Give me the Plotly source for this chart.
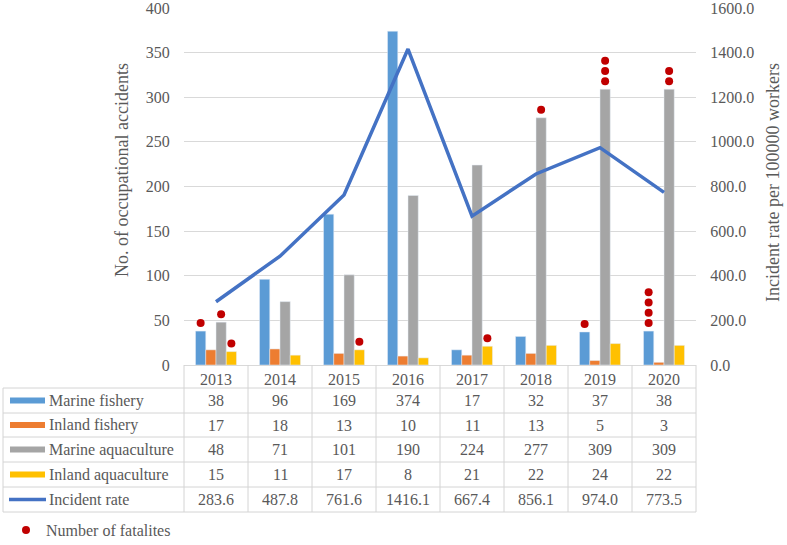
import plotly.graph_objects as go

# ---------------- data ----------------
years = ["2013", "2014", "2015", "2016", "2017", "2018", "2019", "2020"]
marine_fishery = [38, 96, 169, 374, 17, 32, 37, 38]
inland_fishery = [17, 18, 13, 10, 11, 13, 5, 3]
marine_aquaculture = [48, 71, 101, 190, 224, 277, 309, 309]
inland_aquaculture = [15, 11, 17, 8, 21, 22, 24, 22]
incident_rate = [283.6, 487.8, 761.6, 1416.1, 667.4, 856.1, 974.0, 773.5]

# number of fatalities (dots) above each bar
fatal_marine_fishery = [1, 0, 0, 0, 0, 0, 1, 4]
fatal_inland_fishery = [0, 0, 0, 0, 0, 0, 0, 0]
fatal_marine_aquaculture = [1, 0, 0, 0, 0, 1, 3, 2]
fatal_inland_aquaculture = [1, 0, 1, 0, 1, 0, 0, 0]

left_ticks = [0, 50, 100, 150, 200, 250, 300, 350, 400]
right_ticks = [0, 200, 400, 600, 800, 1000, 1200, 1400, 1600]

series_names = ["Marine fishery", "Inland fishery", "Marine aquaculture", "Inland aquaculture"]
series_values = [marine_fishery, inland_fishery, marine_aquaculture, inland_aquaculture]
series_fatal = [fatal_marine_fishery, fatal_inland_fishery, fatal_marine_aquaculture, fatal_inland_aquaculture]
colors = ["#5B9BD5", "#ED7D31", "#A5A5A5", "#FFC000"]
line_color = "#4472C4"
dot_color = "#C00000"

# ---------------- layout geometry ----------------
W, H = 787, 545
ML, MR, MT, MB = 184, 91, 8, 180
PW = W - ML - MR
PH = H - MT - MB
FONT = "Liberation Serif"
TXT = "#595959"
GRID = "#D9D9D9"
BARGAP = 0.36


def pxx(x):
    return (x - ML) / PW


def pxy(y):
    return (H - MB - y) / PH


xs = list(range(len(years)))

fig = go.Figure()
for name, vals, col in zip(series_names, series_values, colors):
    fig.add_trace(go.Bar(x=xs, y=vals, name=name, marker_color=col,
                         showlegend=False, yaxis="y"))

fig.add_trace(go.Scatter(x=xs, y=incident_rate, name="Incident rate", mode="lines",
                         line=dict(color=line_color, width=3.5), yaxis="y2",
                         showlegend=False))

# fatality dots
slot = (1 - BARGAP) / len(series_names)
dx, dy = [], []
for k, (vals, fat) in enumerate(zip(series_values, series_fatal)):
    off = (k - (len(series_names) - 1) / 2) * slot
    for i, (v, n) in enumerate(zip(vals, fat)):
        for j in range(n):
            dx.append(i + off)
            dy.append(v + 9 + 11.5 * j)
fig.add_trace(go.Scatter(x=dx, y=dy, mode="markers", name="Number of fatalites",
                         marker=dict(color=dot_color, size=8), yaxis="y",
                         showlegend=True))

# ---------------- table ----------------
shapes = []
annotations = []
row_edges = [388, 413, 437, 462, 487, 512]
col_edges = [184 + 64 * i for i in range(9)]
line_kw = dict(color="#D4D4D4", width=1)
for y in row_edges:
    shapes.append(dict(type="line", xref="paper", yref="paper",
                       x0=pxx(3), x1=pxx(696), y0=pxy(y), y1=pxy(y), line=line_kw))
shapes.append(dict(type="line", xref="paper", yref="paper",
                   x0=pxx(3), x1=pxx(3), y0=pxy(388), y1=pxy(512), line=line_kw))
for x in col_edges:
    shapes.append(dict(type="line", xref="paper", yref="paper",
                       x0=pxx(x), x1=pxx(x), y0=pxy(365), y1=pxy(512), line=line_kw))

row_names = series_names + ["Incident rate"]
row_values = [[str(v) for v in s] for s in series_values] + [[f"{v:.1f}" for v in incident_rate]]
for r in range(5):
    yc = (row_edges[r] + row_edges[r + 1]) / 2
    if r < 4:
        shapes.append(dict(type="rect", xref="paper", yref="paper",
                           x0=pxx(10), x1=pxx(45), y0=pxy(yc - 3), y1=pxy(yc + 3),
                           fillcolor=colors[r], line=dict(width=0)))
    else:
        shapes.append(dict(type="line", xref="paper", yref="paper",
                           x0=pxx(9), x1=pxx(46), y0=pxy(yc), y1=pxy(yc),
                           line=dict(color=line_color, width=3.5)))
    annotations.append(dict(xref="paper", yref="paper", x=pxx(47), y=pxy(yc),
                            xanchor="left", yanchor="middle", text=row_names[r],
                            showarrow=False, font=dict(family=FONT, size=16, color=TXT)))
    for i, t in enumerate(row_values[r]):
        annotations.append(dict(xref="x", yref="paper", x=i, y=pxy(yc),
                                xanchor="center", yanchor="middle", text=t,
                                showarrow=False, font=dict(family=FONT, size=16, color=TXT)))

# axis titles
annotations.append(dict(xref="paper", yref="paper", x=pxx(122), y=pxy(170),
                        text="No. of occupational accidents", textangle=-90,
                        showarrow=False, xanchor="center", yanchor="middle",
                        font=dict(family=FONT, size=18, color=TXT)))
annotations.append(dict(xref="paper", yref="paper", x=pxx(773), y=pxy(183),
                        text="Incident rate per 100000 workers", textangle=-90,
                        showarrow=False, xanchor="center", yanchor="middle",
                        font=dict(family=FONT, size=18, color=TXT)))

fig.update_layout(
    width=W, height=H,
    margin=dict(l=ML, r=MR, t=MT, b=MB, pad=0, autoexpand=False),
    paper_bgcolor="white", plot_bgcolor="white",
    barmode="group", bargap=BARGAP, bargroupgap=0,
    font=dict(family=FONT, size=16, color=TXT),
    xaxis=dict(range=[-0.5, len(years) - 0.5], tickvals=xs, ticktext=years,
               showgrid=False, zeroline=False, showline=True, linecolor=GRID,
               ticks="", automargin=False,
               tickfont=dict(family=FONT, size=16, color=TXT)),
    yaxis=dict(range=[0, 400], tickmode="array", tickvals=left_ticks,
               showgrid=True, gridcolor=GRID, gridwidth=1, automargin=False,
               zeroline=False, ticks="outside", ticklen=10, tickcolor="rgba(0,0,0,0)",
               ticklabeloverflow="allow",
               tickfont=dict(family=FONT, size=16, color=TXT)),
    yaxis2=dict(range=[0, 1600], tickmode="array", tickvals=right_ticks,
                overlaying="y", side="right", automargin=False,
                showgrid=False, zeroline=False, tickformat=".1f",
                ticks="outside", ticklen=10, tickcolor="rgba(0,0,0,0)",
                ticklabeloverflow="allow",
                tickfont=dict(family=FONT, size=16, color=TXT)),
    legend=dict(x=pxx(6), y=pxy(513), xanchor="left", yanchor="top",
                font=dict(family=FONT, size=16, color=TXT), bgcolor="rgba(0,0,0,0)"),
    shapes=shapes,
    annotations=annotations,
)

fig.write_html("out.html",
               config={"displayModeBar": False},
               post_script="document.body.style.margin='0';document.body.style.padding='0';")
